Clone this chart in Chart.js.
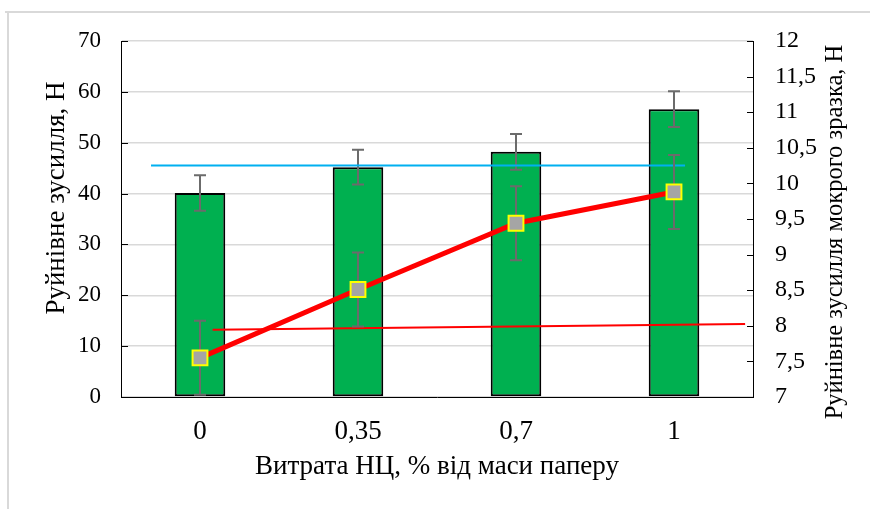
<!DOCTYPE html>
<html>
<head>
<meta charset="utf-8">
<script src="https://cdn.jsdelivr.net/npm/chart.js@4.4.1/dist/chart.umd.min.js"></script>
<style>
  html, body { margin: 0; padding: 0; background: #fff; }
  #wrap { width: 870px; height: 509px; position: relative; }
</style>
</head>
<body>
<div id="wrap"><canvas id="c" width="870" height="509"></canvas></div>
<script>
// Витрата НЦ, % від маси паперу
const categories = ['0', '0,35', '0,7', '1'];
// Руйнівне зусилля, Н (bars, left axis)
const breakingForce = [40.1, 45.2, 48.2, 56.6];
const breakingForceErr = [3.5, 3.4, 3.5, 3.5];
// Руйнівне зусилля мокрого зразка, Н (line, right axis)
const wetBreakingForce = [7.55, 8.51, 9.44, 9.88];
const wetBreakingForceErr = [0.52, 0.52, 0.52, 0.52];
// horizontal reference levels
const dryLevelX = [-0.31, 3.07];
const dryLevelY = [45.5, 45.5];
const wetLevelX = [0.08, 3.45];
const wetLevelY = [7.945, 8.025];
// tick labels
const forceTickLabels = ['0', '10', '20', '30', '40', '50', '60', '70'];
const wetTickLabels = ['7', '7,5', '8', '8,5', '9', '9,5', '10', '10,5', '11', '11,5', '12'];

const FONT = 'Liberation Serif, Times New Roman, serif';

const toPoints = (xs, ys) => xs.map((x, i) => ({ x: x, y: ys[i] }));

// vertical error bars for datasets carrying an `errors` array
const errorBars = {
  id: 'errorBars',
  afterDatasetDraw(chart, args) {
    const ds = chart.data.datasets[args.index];
    if (!ds.errors) return;
    const meta = args.meta;
    const scale = chart.scales[meta.yAxisID];
    const ctx = chart.ctx;
    ctx.save();
    ctx.strokeStyle = '#6b6b6b';
    ctx.lineWidth = 2;
    meta.data.forEach((el, i) => {
      const v = ds.data[i], e = ds.errors[i];
      const x = Math.round(el.x);
      const yt = scale.getPixelForValue(v + e);
      const yb = scale.getPixelForValue(v - e);
      ctx.beginPath();
      ctx.moveTo(x, yt); ctx.lineTo(x, yb);
      ctx.moveTo(x - 6, yt); ctx.lineTo(x + 6, yt);
      ctx.moveTo(x - 6, yb); ctx.lineTo(x + 6, yb);
      ctx.stroke();
    });
    ctx.restore();
  }
};

// outer frame, inward tick marks and axis titles
const decorations = {
  id: 'decorations',
  beforeDraw(chart) {
    const ctx = chart.ctx;
    ctx.save();
    ctx.strokeStyle = '#d9d9d9';
    ctx.lineWidth = 2;
    ctx.beginPath();
    ctx.moveTo(5, 12); ctx.lineTo(870, 12);
    ctx.moveTo(8, 12); ctx.lineTo(8, 509);
    ctx.stroke();
    ctx.restore();
  },
  afterDraw(chart) {
    const ctx = chart.ctx;
    const a = chart.chartArea;
    const yL = chart.scales.y, yR = chart.scales.y1;
    ctx.save();
    ctx.strokeStyle = '#000';
    ctx.lineWidth = 1;
    ctx.beginPath();
    yL.ticks.forEach(t => {
      const py = Math.round(yL.getPixelForValue(t.value)) + 0.5;
      ctx.moveTo(a.left, py); ctx.lineTo(a.left + 7, py);
    });
    yR.ticks.forEach(t => {
      const py = Math.round(yR.getPixelForValue(t.value)) + 0.5;
      ctx.moveTo(a.right - 6, py); ctx.lineTo(a.right, py);
    });
    ctx.stroke();

    ctx.fillStyle = '#000';
    ctx.textAlign = 'center';
    ctx.textBaseline = 'middle';
    ctx.font = '27px ' + FONT;
    ctx.fillText('Витрата НЦ, % від маси паперу', (a.left + a.right) / 2, 467);
    ctx.save();
    ctx.translate(57, 198);
    ctx.rotate(-Math.PI / 2);
    ctx.font = '27px ' + FONT;
    ctx.fillText('Руйнівне зусилля, Н', 0, 0);
    ctx.restore();
    ctx.save();
    ctx.translate(836, 232);
    ctx.rotate(-Math.PI / 2);
    ctx.font = '24.5px ' + FONT;
    ctx.fillText('Руйнівне зусилля мокрого зразка, Н', 0, 0);
    ctx.restore();
    ctx.restore();
  }
};

new Chart(document.getElementById('c'), {
  data: {
    labels: categories,
    datasets: [
      {
        type: 'bar',
        label: 'Руйнівне зусилля, Н',
        data: breakingForce,
        errors: breakingForceErr,
        xAxisID: 'x', yAxisID: 'y',
        backgroundColor: '#00b050',
        borderColor: '#000',
        borderWidth: 2,
        borderSkipped: false,
        grouped: false,
        categoryPercentage: 1,
        barPercentage: 0.32,
        order: 6
      },
      {
        type: 'line',
        data: toPoints(dryLevelX, dryLevelY),
        xAxisID: 'xl', yAxisID: 'y',
        borderColor: '#00b0f0',
        borderWidth: 2,
        pointRadius: 0,
        order: 5
      },
      {
        type: 'line',
        data: toPoints(wetLevelX, wetLevelY),
        xAxisID: 'xl', yAxisID: 'y1',
        borderColor: '#ff0000',
        borderWidth: 2,
        pointRadius: 0,
        order: 4
      },
      {
        type: 'line',
        label: 'Руйнівне зусилля мокрого зразка, Н',
        data: wetBreakingForce,
        errors: wetBreakingForceErr,
        xAxisID: 'x', yAxisID: 'y1',
        borderColor: '#ff0000',
        borderWidth: 5,
        pointRadius: 0,
        tension: 0,
        order: 3
      },
      {
        type: 'line',
        data: wetBreakingForce,
        xAxisID: 'x', yAxisID: 'y1',
        showLine: false,
        pointStyle: 'rect',
        pointRadius: 10.5,
        pointBackgroundColor: '#a5a5a5',
        pointBorderColor: '#ffff00',
        pointBorderWidth: 2,
        order: 1
      }
    ]
  },
  options: {
    responsive: false,
    animation: false,
    layout: { padding: { top: 41, left: 0, right: 0, bottom: 0 } },
    plugins: { legend: { display: false }, tooltip: { enabled: false } },
    scales: {
      x: {
        type: 'category',
        position: 'bottom',
        offset: true,
        grid: { display: false, drawTicks: false },
        border: { display: true, color: '#000', width: 1 },
        ticks: { color: '#000', font: { family: FONT, size: 27 }, padding: 19, maxRotation: 0 },
        afterFit: s => { s.height = 112; }
      },
      xl: {
        type: 'linear',
        display: false,
        min: -0.5, max: 3.5
      },
      y: {
        type: 'linear',
        position: 'left',
        min: 0, max: 70,
        ticks: {
          stepSize: 10, color: '#000', font: { family: FONT, size: 23 }, padding: 20,
          callback: (v, i) => forceTickLabels[i]
        },
        grid: { color: '#d9d9d9', lineWidth: 1.5, drawTicks: false },
        border: { display: true, color: '#000', width: 1 },
        afterFit: s => { s.width = 121; }
      },
      y1: {
        type: 'linear',
        position: 'right',
        min: 7, max: 12,
        ticks: {
          stepSize: 0.5, color: '#000', font: { family: FONT, size: 24 }, padding: 22,
          callback: (v, i) => wetTickLabels[i]
        },
        grid: { display: false, drawTicks: false },
        border: { display: true, color: '#000', width: 1 },
        afterFit: s => { s.width = 117; }
      }
    }
  },
  plugins: [errorBars, decorations]
});
</script>
</body>
</html>
